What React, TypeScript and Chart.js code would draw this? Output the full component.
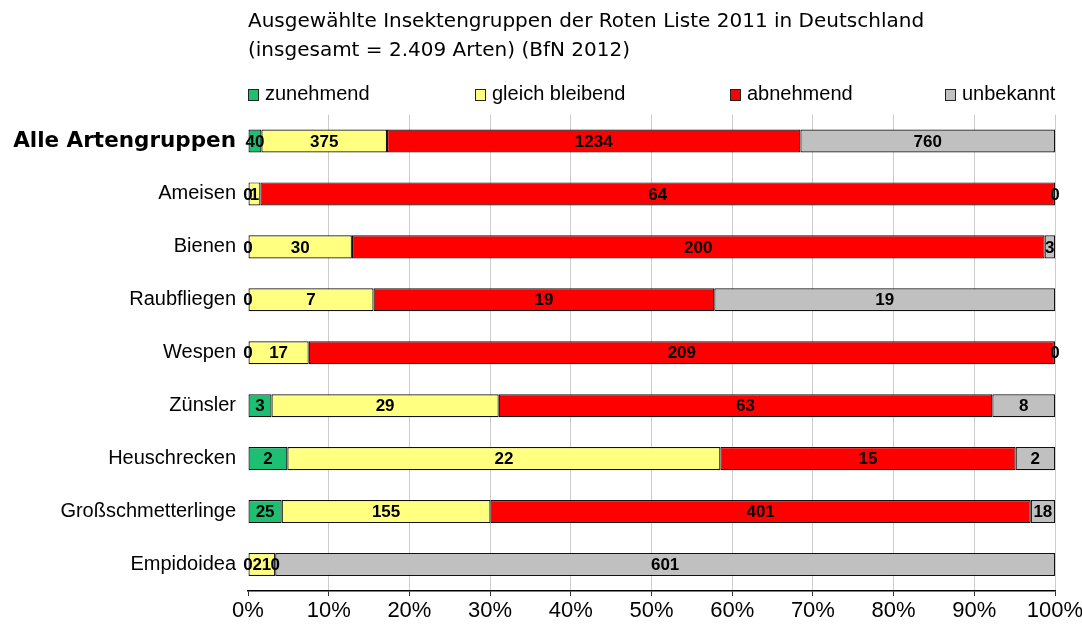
import React, { useEffect, useRef } from 'react';
import { Chart, registerables } from 'chart.js';

Chart.register(...registerables);

const categories = [
  'Alle Artengruppen',
  'Ameisen',
  'Bienen',
  'Raubfliegen',
  'Wespen',
  'Zünsler',
  'Heuschrecken',
  'Großschmetterlinge',
  'Empidoidea',
];
const seriesNames = ['zunehmend', 'gleich bleibend', 'abnehmend', 'unbekannt'];
const zunehmend = [40, 0, 0, 0, 0, 3, 2, 25, 0];
const gleichBleibend = [375, 1, 30, 7, 17, 29, 22, 155, 21];
const abnehmend = [1234, 64, 200, 19, 209, 63, 15, 401, 0];
const unbekannt = [760, 0, 3, 19, 0, 8, 2, 18, 601];
const seriesColors = ['#1dbf73', '#ffff80', '#ff0000', '#c0c0c0'];
const titleLines = [
  'Ausgewählte Insektengruppen der Roten Liste 2011 in Deutschland',
  '(insgesamt = 2.409 Arten) (BfN 2012)',
];
const legendX = [248, 475, 730, 945];

const rawSeries = [zunehmend, gleichBleibend, abnehmend, unbekannt];
const totals = categories.map((_, i) => rawSeries.reduce((s, arr) => s + arr[i], 0));

const labelPlugin = {
  id: 'valueLabels',
  afterDatasetsDraw(chart: any) {
    const ctx = chart.ctx;
    ctx.save();
    ctx.font = 'bold 17px "Liberation Sans", Arial, sans-serif';
    ctx.fillStyle = '#000';
    ctx.textAlign = 'center';
    ctx.textBaseline = 'middle';
    chart.data.datasets.forEach((_ds: any, di: number) => {
      const meta = chart.getDatasetMeta(di);
      meta.data.forEach((bar: any, i: number) => {
        const p = bar.getProps(['x', 'base', 'y'], true);
        ctx.fillText(String(rawSeries[di][i]), (p.x + p.base) / 2, p.y + 1);
      });
    });
    ctx.restore();
  },
};

const headerPlugin = {
  id: 'header',
  afterDraw(chart: any) {
    const ctx = chart.ctx;
    const left = chart.chartArea.left;
    ctx.save();
    ctx.fillStyle = '#000';
    ctx.textAlign = 'left';
    ctx.textBaseline = 'middle';
    ctx.font = '20px "DejaVu Sans", sans-serif';
    ctx.fillText(titleLines[0], left, 22);
    ctx.fillText(titleLines[1], left, 51);
    ctx.font = '20px "Liberation Sans", Arial, sans-serif';
    seriesNames.forEach((name, i) => {
      const x = legendX[i];
      ctx.fillStyle = seriesColors[i];
      ctx.fillRect(x, 89, 10, 11);
      ctx.strokeStyle = '#222';
      ctx.lineWidth = 1;
      ctx.strokeRect(x + 0.5, 89.5, 10, 11);
      ctx.fillStyle = '#000';
      ctx.fillText(name, x + 17, 94);
    });
    ctx.restore();
  },
};

export default function App() {
  const ref = useRef<HTMLCanvasElement | null>(null);
  useEffect(() => {
    if (!ref.current) return;
    const chart = new Chart(ref.current, {
      type: 'bar',
      data: {
        labels: categories,
        datasets: rawSeries.map((arr, di) => ({
          label: seriesNames[di],
          data: arr.map((v, i) => (v / totals[i]) * 100),
          backgroundColor: seriesColors[di],
          borderColor: '#111',
          borderWidth: 1.2,
          borderSkipped: false,
          barPercentage: 0.87,
          categoryPercentage: 0.5,
        })),
      },
      options: {
        indexAxis: 'y',
        animation: false,
        responsive: true,
        maintainAspectRatio: false,
        layout: { padding: { top: 114.5, right: 27, left: 0, bottom: 0 } },
        plugins: {
          legend: { display: false },
          title: { display: false },
          tooltip: { enabled: false },
        },
        scales: {
          x: {
            stacked: true,
            min: 0,
            max: 100,
            afterFit: (s: any) => {
              s.height = 38;
              s.paddingLeft = 0;
              s.paddingRight = 0;
            },
            ticks: {
              stepSize: 10,
              color: '#000',
              padding: 2,
              maxRotation: 0,
              font: { family: '"Liberation Sans", Arial, sans-serif', size: 22 },
              callback: (v: any) => v + '%',
            },
            grid: {
              color: (c: any) => (c.index === 0 ? 'rgba(0,0,0,0)' : '#cccccc'),
              tickColor: '#333',
              tickLength: 5,
              lineWidth: 1,
            },
            border: { display: true, color: '#000', width: 1.5 },
          },
          y: {
            stacked: true,
            afterFit: (s: any) => {
              s.width = 248;
            },
            grid: { display: false, drawTicks: false },
            border: { display: false },
            ticks: {
              color: '#000',
              padding: 12,
              font: (c: any) =>
                c.index === 0
                  ? { family: '"DejaVu Sans", sans-serif', size: 21.5, weight: 'bold' }
                  : { family: '"Liberation Sans", Arial, sans-serif', size: 20 },
            },
          },
        },
      },
      plugins: [labelPlugin, headerPlugin],
    } as any);
    return () => chart.destroy();
  }, []);
  return (
    <div style={{ position: 'absolute', left: 0, top: 0, width: 1082, height: 629 }}>
      <canvas ref={ref} />
    </div>
  );
}
